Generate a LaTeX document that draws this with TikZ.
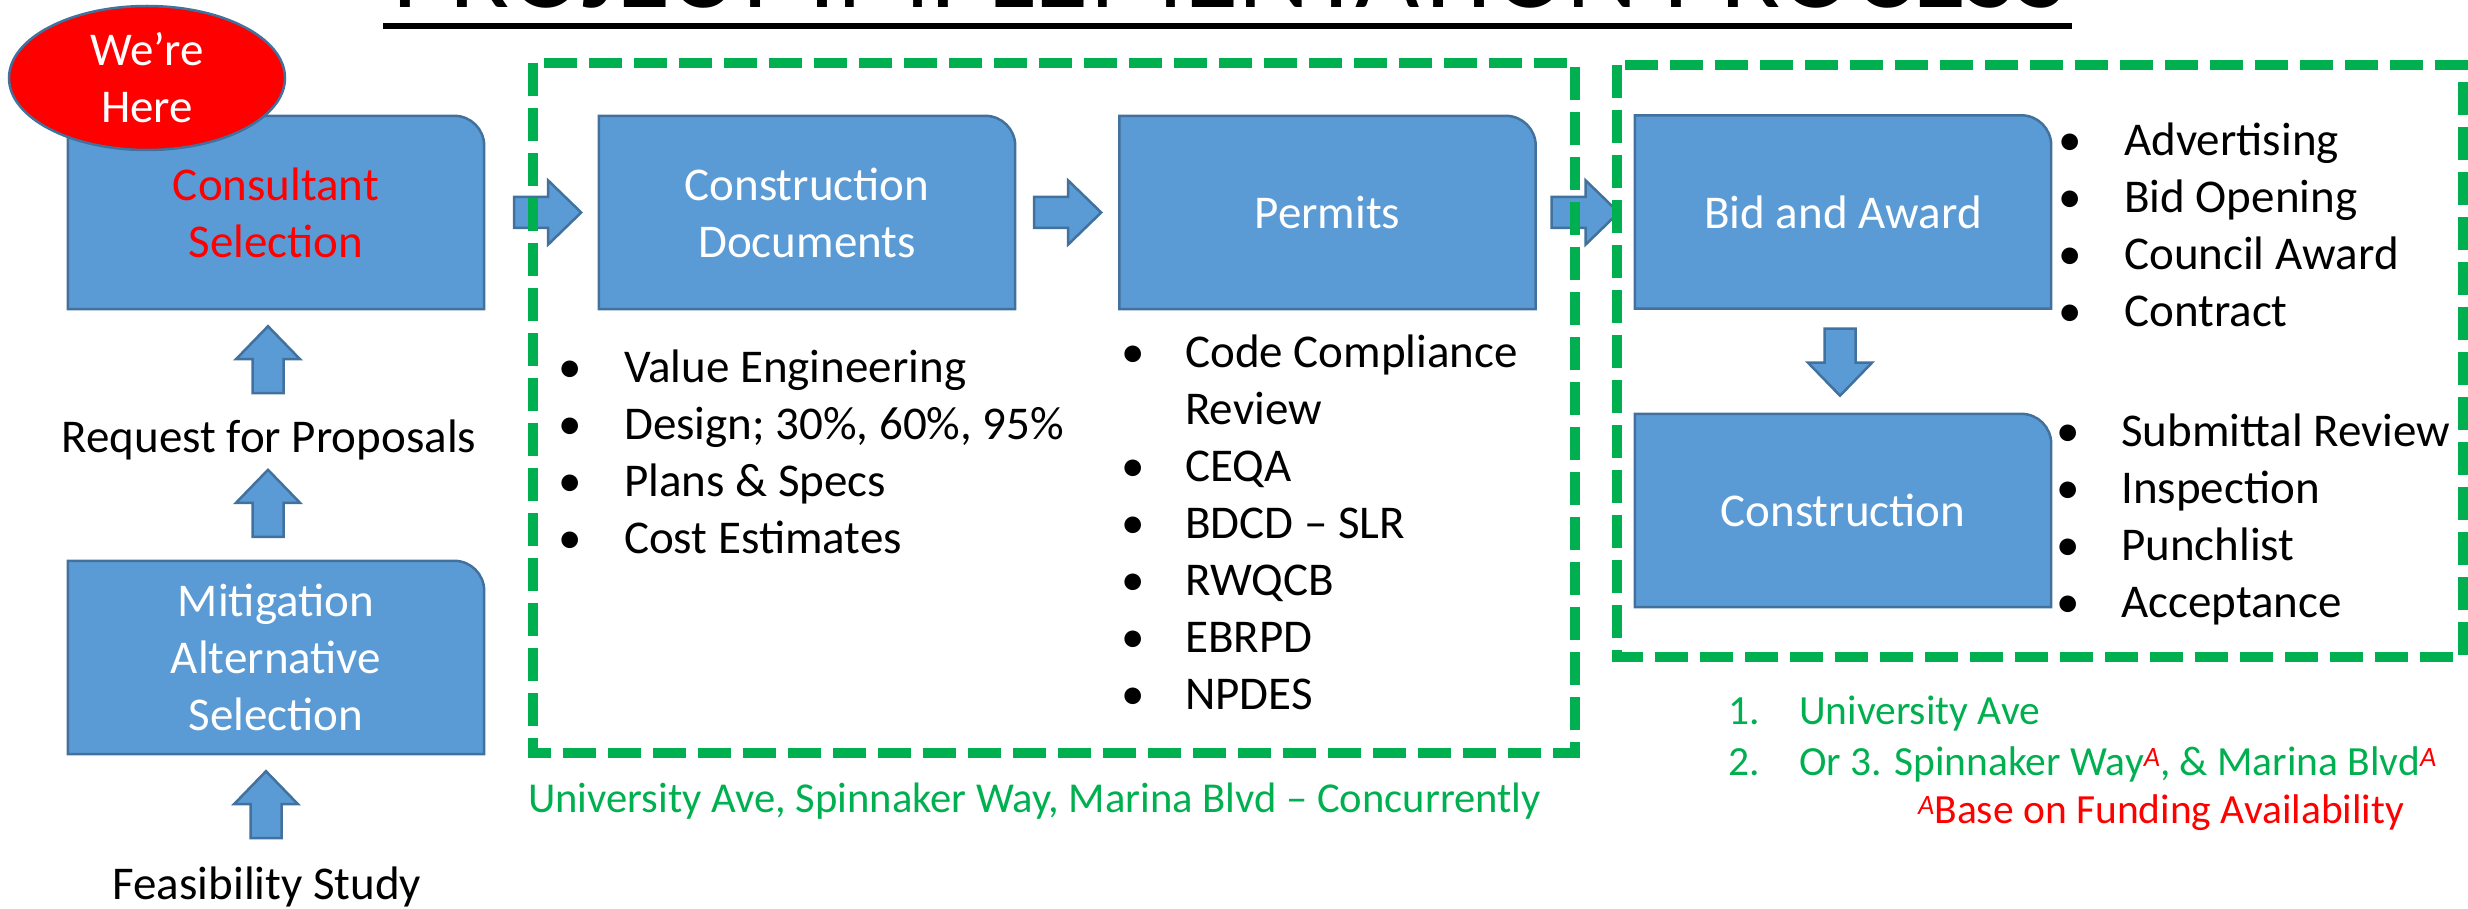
\documentclass[tikz,border=0pt]{standalone}
\usepackage{fontspec}
\setmainfont{Carlito}
\usetikzlibrary{calc,shapes.geometric}
\pgfdeclarelayer{bg}
\pgfsetlayers{bg,main}
\definecolor{bfill}{HTML}{5B9BD5}
\definecolor{bline}{HTML}{41719C}
\definecolor{ggreen}{HTML}{00B050}
\definecolor{rred}{HTML}{FF0000}
\newcommand\bodyfont{\fontsize{47}{57}\selectfont}
\newcommand\listfont{\fontsize{41.5}{51}\selectfont}
\newcommand\capfont{\fontsize{42.6}{51}\selectfont}
\newcommand\supA{\raisebox{9pt}{\fontsize{28}{28}\selectfont\itshape\color{rred}A}}
\newcommand\bul{\makebox[0pt]{•}}
\newcommand\boxshape[1]{%
  \begin{pgfonlayer}{bg}
  \draw[boxline] (#1.south west) -- (#1.north west) -- ([xshift=-30pt]#1.north east)
    .. controls ([xshift=-13.4pt]#1.north east) and ([yshift=-13.4pt]#1.north east) ..
    ([yshift=-30pt]#1.north east) -- (#1.south east) -- cycle;
  \end{pgfonlayer}}
\tikzset{
  boxline/.style={fill=bfill, draw=bline, line width=2.5},
  arrowst/.style={fill=bfill, draw=bline, line width=2.5, line join=miter},
  boxarea/.style={inner sep=0, minimum width=416, minimum height=193, align=center, text=white, font=\bodyfont},
  txt/.style={inner sep=0, font=\bodyfont},
  gbox/.style={draw=ggreen, line width=10, dash pattern=on 33pt off 12pt},
  pics/barrow/.style={code={\draw[arrowst] (0,-15.5) -- (34,-15.5) -- (34,-32) -- (67,0) -- (34,32) -- (34,15.5) -- (0,15.5) -- cycle;}}
}
\begin{document}
\begin{tikzpicture}[x=1pt,y=-1pt]
\useasboundingbox (0,0) rectangle (2468,909);
\clip (0,0) rectangle (2468,909);
% title
\node[anchor=base, inner sep=0, font=\fontsize{111}{120}\selectfont] (title) at (1230,8) {PROJECT IMPLEMENTATION PROCESS};
\draw[line width=6] ([xshift=-9pt,yshift=-18pt]title.base west) -- ([xshift=4pt,yshift=-18pt]title.base east);
% boxes
\node[boxarea, text=rred] (cs) at (276,212.5) {Consultant\\Selection};
\boxshape{cs}
\node[boxarea] (mit) at (276,657.5) {Mitigation\\Alternative\\Selection};
\boxshape{mit}
\node[boxarea] (cd) at (807,212.5) {Construction\\Documents};
\boxshape{cd}
\node[boxarea] (pm) at (1327.5,212.5) {Permits};
\boxshape{pm}
\node[boxarea] (ba) at (1843,212) {Bid and Award};
\boxshape{ba}
\node[boxarea] (co) at (1843,510.5) {Construction};
\boxshape{co}
% labels left
\node[txt, anchor=base] (rfp) at (269,452) {Request for Proposals};
\node[txt, anchor=base] (fs) at (267,899) {Feasibility Study};
% arrows
\pic at ($(cs.east)+(30,0)$) {barrow};
\pic at ($(cd.east)+(19,0)$) {barrow};
\pic at ($(pm.east)+(16,0)$) {barrow};
\pic[rotate=90] at ($(cs.south)+(-8,84)$) {barrow};
\pic[rotate=90] at ($(mit.north)+(-8,-24)$) {barrow};
\pic[rotate=90] at ($(mit.south)+(-10,84)$) {barrow};
\pic[rotate=-90] at ($(ba.south)+(-3,20)$) {barrow};
% green dashed boxes
\draw[gbox] (533,63) rectangle (1575,753);
\draw[gbox] (1617,65) rectangle (2463,657);
% ellipse
\node[ellipse, draw=bline, line width=2.5, fill=rred, minimum width=276, minimum height=144, inner sep=0,
  text=white, align=center, font=\bodyfont] (here) at (147,78) {We’re\\Here};
% bullet lists
\node[txt, anchor=base west] (cdlist) at (570,382) {\begin{tabular}[t]{@{}p{54pt}@{}l@{}}
\bul & Value Engineering\\
\bul & Design; 30\%, 60\%, 95\%\\
\bul & Plans \& Specs\\
\bul & Cost Estimates
\end{tabular}};
\node[txt, anchor=base west] (pmlist) at (1133,367) {\begin{tabular}[t]{@{}p{52pt}@{}l@{}}
\bul & Code Compliance\\
 & Review\\
\bul & CEQA\\
\bul & BDCD – SLR\\
\bul & RWQCB\\
\bul & EBRPD\\
\bul & NPDES
\end{tabular}};
\node[txt, anchor=base west] (balist) at (2070,156) {\begin{tabular}[t]{@{}p{54pt}@{}l@{}}
\bul & Advertising\\
\bul & Bid Opening\\
\bul & Council Award\\
\bul & Contract
\end{tabular}};
\node[txt, anchor=base west] (colist) at (2068,446) {\begin{tabular}[t]{@{}p{53pt}@{}l@{}}
\bul & Submittal Review\\
\bul & Inspection\\
\bul & Punchlist\\
\bul & Acceptance
\end{tabular}};
% captions
\node[inner sep=0, anchor=base west, text=ggreen, font=\capfont] (cap1) at (528,812) {University Ave, Spinnaker Way, Marina Blvd – Concurrently};
\node[inner sep=0, anchor=base west, text=ggreen, font=\listfont] (cap2) at (1728,724) {\begin{tabular}[t]{@{}p{71pt}@{}l@{}}
1. & University Ave\\
2. & Or 3. Spinnaker Way\supA, \& Marina Blvd\supA
\end{tabular}};
\node[inner sep=0, anchor=base west, text=rred, font=\listfont] (cap3) at (1918,823) {\supA Base on Funding Availability};
\end{tikzpicture}
\end{document}
